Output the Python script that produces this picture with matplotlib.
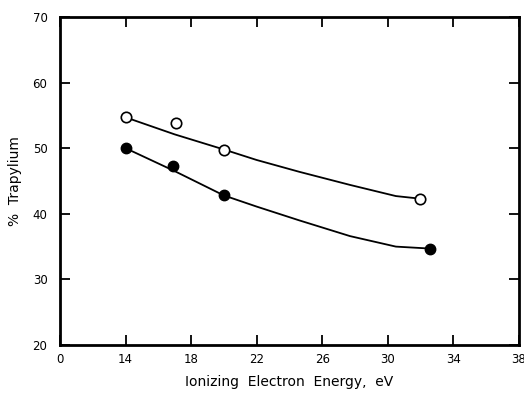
import numpy as np
import matplotlib.pyplot as plt

# Datos
x_abiertos = [14, 17.1, 20, 32]
y_abiertos = [54.7, 53.8, 49.7, 42.3]
x_llenos = [14, 16.9, 20, 32.6]
y_llenos = [50.0, 47.3, 42.8, 34.7]

# Curvas dibujadas a mano
curva_abiertos_x = [14, 17, 20, 22, 24.6, 27.7, 30.5, 32]
curva_abiertos_y = [54.7, 52.1, 49.8, 48.2, 46.4, 44.4, 42.7, 42.3]
curva_llenos_x = [14, 17, 20, 22, 24.6, 27.7, 30.5, 32.6]
curva_llenos_y = [50.0, 46.5, 42.8, 41.1, 39.0, 36.6, 35.0, 34.7]

# Eje x roto: el primer tick se rotula "0"
xticks = [10, 14, 18, 22, 26, 30, 34, 38]
xtick_labels = ['0', '14', '18', '22', '26', '30', '34', '38']
yticks = [20, 30, 40, 50, 60, 70]

fig = plt.figure(figsize=(5.24, 3.93), dpi=100)
ax = fig.add_axes([0.1145, 0.122, 0.8755, 0.835])

ax.plot(curva_abiertos_x, curva_abiertos_y, color='black', lw=1.3)
ax.plot(curva_llenos_x, curva_llenos_y, color='black', lw=1.3)
ax.plot(x_abiertos, y_abiertos, 'o', ms=7.5, mfc='white', mec='black', mew=1.2, zorder=3)
ax.plot(x_llenos, y_llenos, 'o', ms=7.5, mfc='black', mec='black', zorder=3)

ax.set_xlim(10, 38)
ax.set_ylim(20, 70)
ax.set_xticks(xticks)
ax.set_xticklabels(xtick_labels)
ax.set_yticks(yticks)

for s in ax.spines.values():
    s.set_linewidth(2)
ax.tick_params(direction='in', top=True, right=True, length=7, width=1.3,
               labelsize=8.5, pad=6)
ax.tick_params(axis='y', pad=9)

ax.set_xlabel('Ionizing  Electron  Energy,  eV', fontsize=10, labelpad=6)
ax.set_ylabel('%  Trapylium', fontsize=10, labelpad=8)

fig.savefig('out.png', dpi=100)
